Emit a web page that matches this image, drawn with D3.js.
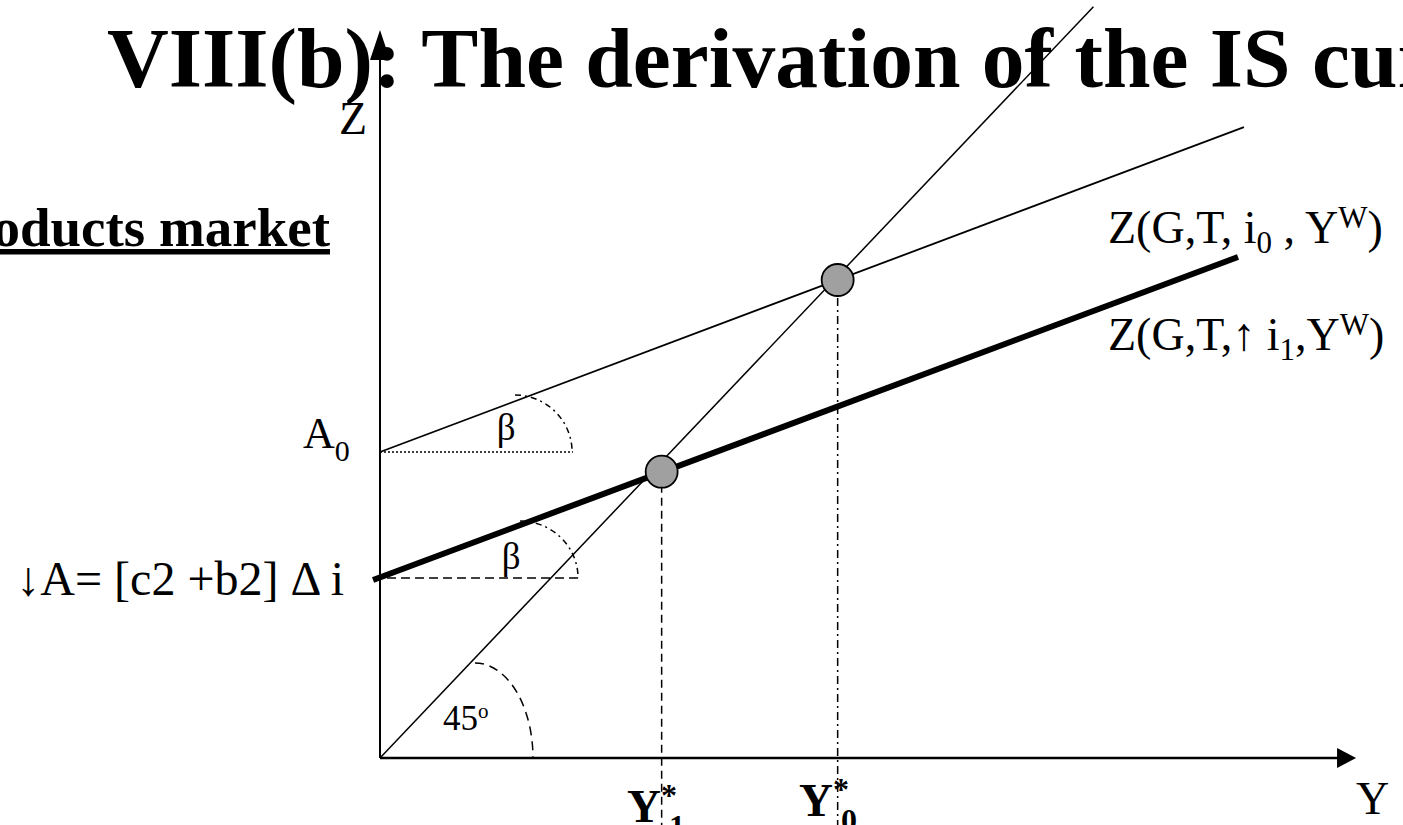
<!DOCTYPE html>
<html>
<head>
    <title>IS curve derivation</title>
    <style>
        body { margin: 0; background: #fff; }
        text { font-family: "Liberation Serif", "Times New Roman", serif; fill: #000; }
    </style>
    <script src="https://d3js.org/d3.v7.min.js"></script>
</head>
<body>
    <svg id="chart"></svg>

    <script>
        // data space: 45 degree line is y = x
        const xDomain = [0, 10];
        const yDomain = [0, 7.5];
        const axisEnds = [9.96, 7.054];              // x arrow tip, y arrow tip
        const line45 = [[0, 0], [7.28, 7.28]];
        const zHigh = [[0, 2.965], [8.816, 6.114]];  // Z(G,T,i0,Yw)
        const zLow = [[-0.071, 1.725], [8.755, 4.855]]; // Z(G,T,up i1,Yw)
        const equilibria = [
            { label: "0", x: 4.670, y: 4.632 },
            { label: "1", x: 2.874, y: 2.774 }
        ];
        // angle markers: centre, radii (data units), dash
        const arcs = [
            { cx: 1.378, cy: 2.965, rx: 0.582, ry: 0.552, dash: "6,4,2,4" },
            { cx: 1.429, cy: 1.744, rx: 0.592, ry: 0.552, dash: "6,4,2,4" },
            { cx: 0.969, cy: 0, rx: 0.592, ry: 0.921, dash: "9,6" }
        ];
        const baseLines = [
            { y: 2.965, x0: 0, x1: 1.969, dash: "2,2" },
            { y: 1.744, x0: -0.071, x1: 2.02, dash: "9,5" }
        ];
        const dropBottom = -0.7;

        const width = 1403, height = 825;
        const svg = d3.select('#chart').attr('width', width).attr('height', height);

        const x = d3.scaleLinear().domain(xDomain).range([380, 1360]);
        const y = d3.scaleLinear().domain(yDomain).range([758, -16]);
        const line = d3.line().x(d => x(d[0])).y(d => y(d[1]));

        // title
        svg.append('text')
            .attr('x', 107).attr('y', 87)
            .attr('font-size', 85.5).attr('font-weight', 'bold')
            .text('VIII(b): The derivation of the IS curve');

        svg.append('text')
            .attr('x', 330).attr('y', 246)
            .attr('text-anchor', 'end')
            .attr('font-size', 55).attr('font-weight', 'bold')
            .style('text-decoration', 'underline')
            .text('Products market');

        // axes
        svg.append('line')
            .attr('x1', x(0)).attr('y1', y(0)).attr('x2', x(0)).attr('y2', y(axisEnds[1]) + 28)
            .attr('stroke', '#000').attr('stroke-width', 2);
        svg.append('line')
            .attr('x1', x(0)).attr('y1', y(0)).attr('x2', x(axisEnds[0]) - 18).attr('y2', y(0))
            .attr('stroke', '#000').attr('stroke-width', 2.5);
        svg.append('path')
            .attr('d', `M${x(0)},${y(axisEnds[1])} L${x(0) - 10},${y(axisEnds[1]) + 30} L${x(0) + 10},${y(axisEnds[1]) + 30} Z`)
            .attr('fill', '#000');
        svg.append('path')
            .attr('d', `M${x(axisEnds[0])},${y(0)} L${x(axisEnds[0]) - 19},${y(0) - 10} L${x(axisEnds[0]) - 19},${y(0) + 10} Z`)
            .attr('fill', '#000');

        // guide lines under the angles
        svg.append('g').selectAll('line')
            .data(baseLines)
            .enter().append('line')
            .attr('x1', d => x(d.x0)).attr('x2', d => x(d.x1))
            .attr('y1', d => y(d.y)).attr('y2', d => y(d.y))
            .attr('stroke', '#000').attr('stroke-width', 1.5)
            .attr('stroke-dasharray', d => d.dash);

        svg.append('g').selectAll('path')
            .data(arcs)
            .enter().append('path')
            .attr('d', d => {
                const rx = x(d.cx + d.rx) - x(d.cx), ry = y(d.cy) - y(d.cy + d.ry);
                return `M${x(d.cx)},${y(d.cy) - ry} A${rx},${ry} 0 0 1 ${x(d.cx) + rx},${y(d.cy)}`;
            })
            .attr('fill', 'none').attr('stroke', '#000').attr('stroke-width', 1.5)
            .attr('stroke-dasharray', d => d.dash);

        // main lines
        svg.append('path').attr('d', line(line45))
            .attr('fill', 'none').attr('stroke', '#000').attr('stroke-width', 1.5);
        svg.append('path').attr('d', line(zHigh))
            .attr('fill', 'none').attr('stroke', '#000').attr('stroke-width', 1.8);
        svg.append('path').attr('d', line(zLow))
            .attr('fill', 'none').attr('stroke', '#000').attr('stroke-width', 6);

        // drop lines and equilibrium points
        svg.append('g').selectAll('line')
            .data(equilibria)
            .enter().append('line')
            .attr('x1', d => x(d.x)).attr('x2', d => x(d.x))
            .attr('y1', d => y(d.y)).attr('y2', y(dropBottom))
            .attr('stroke', '#000').attr('stroke-width', 1.5)
            .attr('stroke-dasharray', d => d.label === "0" ? "8,4,2,4" : "8,5");

        svg.append('g').selectAll('circle')
            .data(equilibria)
            .enter().append('circle')
            .attr('cx', d => x(d.x)).attr('cy', d => y(d.y))
            .attr('r', 16)
            .attr('fill', '#a0a0a0').attr('stroke', '#000').attr('stroke-width', 1.8);

        // labels
        svg.append('text').attr('x', x(0) - 41).attr('y', 134).attr('font-size', 46).text('Z');
        svg.append('text').attr('x', 1356).attr('y', 814).attr('font-size', 46).text('Y');

        const a0 = svg.append('text').attr('x', 303).attr('y', y(zHigh[0][1]) - 4).attr('font-size', 44);
        a0.append('tspan').text('A');
        a0.append('tspan').attr('font-size', 30).attr('dy', 13).text('0');

        svg.append('text').attr('x', 344).attr('y', 595).attr('text-anchor', 'end')
            .attr('font-size', 48).text('\u2193A= [c2 +b2] \u0394 i');

        svg.append('text').attr('x', x(arcs[0].cx) - 9).attr('y', 440).attr('text-anchor', 'middle')
            .attr('font-size', 37).text('\u03b2');
        svg.append('text').attr('x', x(arcs[1].cx) - 9).attr('y', 569).attr('text-anchor', 'middle')
            .attr('font-size', 37).text('\u03b2');

        const deg = svg.append('text').attr('x', 443).attr('y', 730).attr('font-size', 35);
        deg.append('tspan').text('45');
        deg.append('tspan').attr('font-size', 21).attr('dy', -12).text('o');

        const r1 = svg.append('text').attr('x', 1108).attr('y', 243).attr('font-size', 46);
        r1.append('tspan').text('Z(G,T, i');
        r1.append('tspan').attr('font-size', 31).attr('dy', 10).text('0');
        r1.append('tspan').attr('dy', -10).text(' , Y');
        r1.append('tspan').attr('font-size', 31).attr('dy', -15).text('W');
        r1.append('tspan').attr('dy', 15).text(')');

        const r2 = svg.append('text').attr('x', 1108).attr('y', 350).attr('font-size', 46);
        r2.append('tspan').text('Z(G,T,\u2191 i');
        r2.append('tspan').attr('font-size', 31).attr('dy', 10).text('1');
        r2.append('tspan').attr('dy', -10).text(',Y');
        r2.append('tspan').attr('font-size', 31).attr('dy', -15).text('W');
        r2.append('tspan').attr('dy', 15).text(')');

        const ys = [{ lab: "1", x0: 627, base: 822 }, { lab: "0", x0: 799, base: 816 }];
        ys.forEach(d => {
            const t = svg.append('text').attr('x', d.x0).attr('y', d.base)
                .attr('font-size', 47).attr('font-weight', 'bold');
            t.append('tspan').text('Y');
            t.append('tspan').attr('font-size', 32).attr('dy', -16).text('*');
            t.append('tspan').attr('font-size', 32).attr('dx', -8).attr('dy', 31).text(d.lab);
        });
    </script>
</body>
</html>
